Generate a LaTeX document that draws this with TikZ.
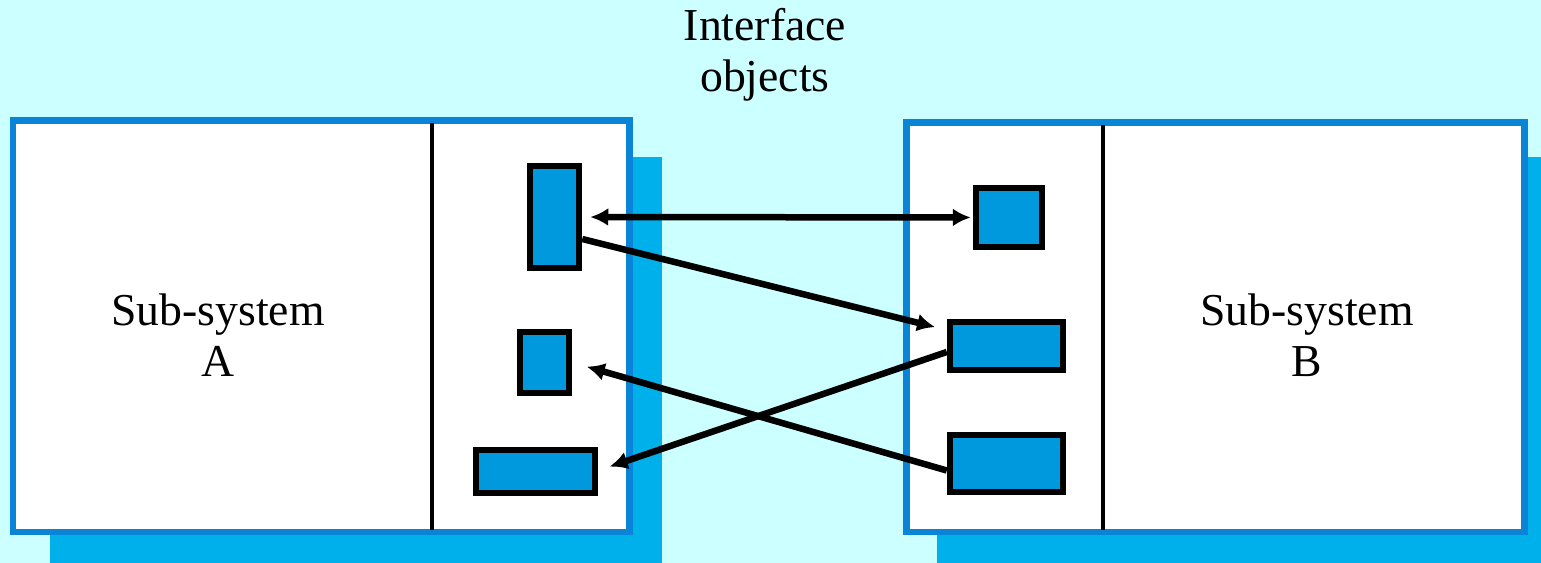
\documentclass[tikz,border=0pt]{standalone}
\usepackage{fontspec}
\setmainfont{Liberation Serif}
\usetikzlibrary{arrows.meta}
\definecolor{bgcyan}{HTML}{CCFFFF}
\definecolor{shadowblue}{HTML}{00B0EA}
\definecolor{edgeblue}{HTML}{0A84D6}
\definecolor{objblue}{HTML}{0099DD}
\begin{document}
\begin{tikzpicture}[x=0.02cm, y=-0.02cm,
	iobj/.style = {draw, line width=0.13cm, fill=objblue, inner sep=0pt},
	label/.style = {align=center, font=\fontsize{26}{29}\selectfont},
	link/.style = {line width=0.13cm, -{Latex[length=0.36cm, width=0.36cm]}}]
	% background and sub-system boxes
	\fill [bgcyan] (0,0) rectangle (1541,563);
	\fill [shadowblue] (50,157) rectangle (662,563);
	\fill [shadowblue] (937,157) rectangle (1541,563);
	\draw [edgeblue, fill=white, line width=0.14cm] (13,121) rectangle (629,532);
	\draw [edgeblue, fill=white, line width=0.14cm] (906,123) rectangle (1524,532);
	\draw [line width=0.09cm] (432,123) -- (432,530);
	\draw [line width=0.09cm] (1103,125) -- (1103,530);
	% interface objects
	\node [iobj, minimum width=0.98cm, minimum height=2.04cm] (a1) at (554.5,217) {};
	\node [iobj, minimum width=0.98cm, minimum height=1.22cm] (a2) at (544.5,362.5) {};
	\node [iobj, minimum width=2.38cm, minimum height=0.86cm] (a3) at (535.5,471.5) {};
	\node [iobj, minimum width=1.32cm, minimum height=1.18cm] (b1) at (1009,217.5) {};
	\node [iobj, minimum width=2.26cm, minimum height=0.96cm] (b2) at (1006.5,346) {};
	\node [iobj, minimum width=2.26cm, minimum height=1.14cm] (b3) at (1006.5,463.5) {};
	% labels
	\node [label] (title) at (765,55) {Interface\\objects};
	\node [label] (subA) at (218,335) {Sub-system\\A};
	\node [label] (subB) at (1307,335) {Sub-system\\B};
	% links
	\draw [link, {Latex[length=0.36cm, width=0.36cm]}-{Latex[length=0.36cm, width=0.36cm]}, shorten <=0.16cm, shorten >=0.04cm] (a1) -- (b1);
	\draw [link, shorten >=0.24cm] ([yshift=-0.44cm]a1.east) -- ([yshift=0.32cm]b2.west);
	\draw [link, shorten >=0.3cm] ([yshift=-0.14cm]b3.west) -- (a2.east);
	\draw [link, shorten >=0.24cm] ([yshift=-0.12cm]b2.west) -- ([yshift=0.02cm]a3.east);
\end{tikzpicture}
\end{document}
